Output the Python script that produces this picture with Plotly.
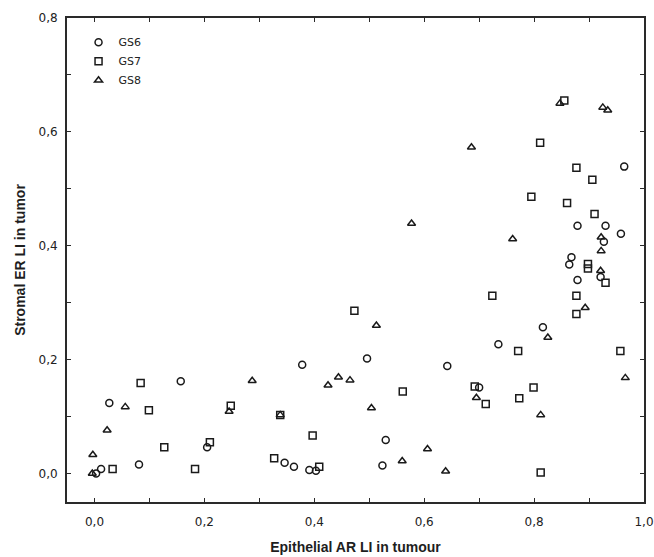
import plotly.graph_objects as go

# GS6 (circles)
gs6_x = [0.003, 0.012, 0.027, 0.081, 0.157, 0.205, 0.346, 0.363, 0.378, 0.391, 0.403, 0.496,
         0.524, 0.530, 0.642, 0.700, 0.735, 0.816, 0.864, 0.868, 0.879, 0.879, 0.921, 0.927,
         0.930, 0.958, 0.964]
gs6_y = [0.000, 0.008, 0.124, 0.016, 0.162, 0.046, 0.019, 0.012, 0.191, 0.006, 0.005, 0.202,
         0.014, 0.059, 0.189, 0.151, 0.227, 0.257, 0.367, 0.380, 0.340, 0.435, 0.345, 0.407,
         0.435, 0.421, 0.539]

# GS7 (squares)
gs7_x = [0.033, 0.084, 0.099, 0.127, 0.183, 0.210, 0.248, 0.327, 0.338, 0.397, 0.409, 0.473,
         0.561, 0.692, 0.712, 0.724, 0.771, 0.773, 0.795, 0.799, 0.811, 0.812, 0.855, 0.860,
         0.877, 0.877, 0.877, 0.898, 0.898, 0.906, 0.910, 0.930, 0.957]
gs7_y = [0.008, 0.159, 0.111, 0.046, 0.008, 0.055, 0.119, 0.027, 0.103, 0.067, 0.012, 0.286,
         0.144, 0.153, 0.122, 0.312, 0.215, 0.132, 0.486, 0.151, 0.581, 0.002, 0.655, 0.475,
         0.280, 0.312, 0.537, 0.360, 0.368, 0.516, 0.456, 0.335, 0.215]

# GS8 (triangles)
gs8_x = [-0.004, -0.003, 0.023, 0.056, 0.245, 0.287, 0.338, 0.425, 0.444, 0.465, 0.504, 0.513,
         0.560, 0.577, 0.606, 0.639, 0.686, 0.695, 0.761, 0.812, 0.825, 0.847, 0.893, 0.921,
         0.922, 0.922, 0.925, 0.934, 0.966]
gs8_y = [0.000, 0.033, 0.076, 0.117, 0.109, 0.163, 0.103, 0.155, 0.169, 0.164, 0.115, 0.260,
         0.022, 0.439, 0.043, 0.004, 0.573, 0.133, 0.412, 0.103, 0.239, 0.650, 0.291, 0.356,
         0.391, 0.415, 0.643, 0.638, 0.168]

x_title = "Epithelial AR LI in tumour"
y_title = "Stromal ER LI in tumor"

ink = "#1a1a1a"
axis_col = "#2a2a2a"
fig = go.Figure()
for name, xs, ys, sym in [("GS6", gs6_x, gs6_y, "circle-open"),
                          ("GS7", gs7_x, gs7_y, "square-open"),
                          ("GS8", gs8_x, gs8_y, "triangle-up-open")]:
    fig.add_trace(go.Scatter(x=xs, y=ys, mode="markers", name=name,
                             marker=dict(symbol=sym, size=7, color=ink,
                                         line=dict(width=1.5, color=ink))))

tickfont = dict(family="DejaVu Sans", size=12, color="#222222")
titlefont = dict(family="Liberation Sans", size=14, color="#1e1e1e")

common = dict(tickformat=".1f", ticks="inside", ticklen=4, tickwidth=1,
              tickcolor=axis_col, showline=True, linecolor=axis_col, linewidth=2,
              mirror="ticks", showgrid=False, zeroline=False, tickfont=tickfont,
              automargin=False,
              minor=dict(dtick=0.1, tick0=0, ticks="inside", ticklen=4,
                         tickcolor=axis_col, showgrid=False))

fig.update_layout(
    width=654, height=557,
    margin=dict(l=67, r=10, t=18, b=55, autoexpand=False),
    paper_bgcolor="white", plot_bgcolor="white",
    separators=",.",
    showlegend=True,
    legend=dict(x=0.02, y=0.98, xanchor="left", yanchor="top",
                font=dict(family="DejaVu Sans", size=11, color="#222222"),
                bgcolor="rgba(0,0,0,0)", tracegroupgap=0, itemwidth=30),
    xaxis=dict(range=[-0.05, 1.0], tickvals=[0, 0.2, 0.4, 0.6, 0.8, 1.0],
               ticklabelstandoff=8,
               title=dict(text="<b>" + x_title + "</b>", font=titlefont, standoff=14),
               **common),
    yaxis=dict(range=[-0.05, 0.8], tickvals=[0, 0.2, 0.4, 0.6, 0.8],
               ticklabelstandoff=5,
               title=dict(text="<b>" + y_title + "</b>", font=titlefont, standoff=10),
               **common),
)

fig.write_html("out.html")
